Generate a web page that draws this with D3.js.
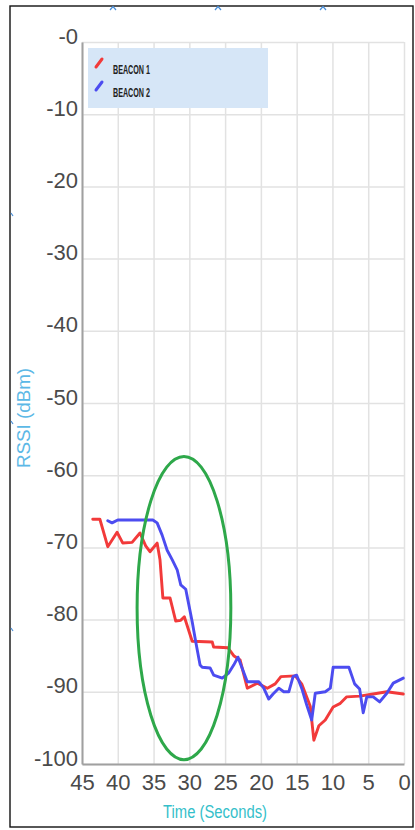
<!DOCTYPE html>
<html>
<head>
<meta charset="utf-8">
<script src="https://cdn.jsdelivr.net/npm/d3@7"></script>
<style>
  html, body { margin: 0; padding: 0; background: #fff; }
  svg { display: block; }
  text { font-family: "Liberation Sans", Arial, sans-serif; }
</style>
</head>
<body>
<svg id="chart" width="415" height="830"></svg>
<script>
// ---------- data ----------
const xTicks = [45, 40, 35, 30, 25, 20, 15, 10, 5, 0];
const xTickLabels = ["45", "40", "35", "30", "25", "20", "15", "10", "5", "0"];
const yTicks = [0, -10, -20, -30, -40, -50, -60, -70, -80, -90, -100];
const yTickLabels = ["-0", "-10", "-20", "-30", "-40", "-50", "-60", "-70", "-80", "-90", "-100"];

const seriesNames = ["BEACON 1", "BEACON 2"];

const beacon1Time = [43.5, 42.5, 41.4, 40.1, 39.3, 38.0, 36.9, 36.1, 35.5, 34.5,
                     34.1, 33.7, 32.7, 31.9, 31.2, 30.7, 29.6, 26.8, 26.6, 24.6,
                     23.8, 22.9, 21.9, 20.5, 19.1, 18.0, 17.2, 15.2, 14.3, 13.1,
                     12.6, 11.9, 11.0, 9.9, 8.9, 8.0, 6.2, 4.3, 2.4, 0.1];
const beacon1Rssi = [-66.1, -66.1, -69.9, -67.9, -69.4, -69.3, -68.0, -69.8, -70.6, -69.4,
                     -71.7, -77.0, -77.0, -80.2, -80.1, -79.6, -83.0, -83.1, -83.8, -83.9,
                     -85.0, -85.6, -89.5, -88.8, -89.5, -88.9, -87.9, -87.8, -88.9, -92.0,
                     -96.7, -94.7, -93.9, -92.1, -91.6, -90.7, -90.6, -90.3, -90.0, -90.3];

const beacon2Time = [41.4, 40.8, 40.0, 35.1, 34.5, 33.8, 33.1, 32.4, 31.7, 31.2,
                     30.5, 30.2, 29.6, 29.1, 28.5, 28.2, 27.1, 26.6, 25.4, 24.5,
                     23.8, 23.2, 21.9, 20.3, 19.6, 18.9, 18.3, 17.5, 16.8, 16.1,
                     15.5, 15.0, 14.3, 13.6, 12.9, 12.4, 11.0, 10.3, 9.9, 7.7,
                     6.9, 6.2, 5.7, 5.2, 4.3, 3.4, 2.4, 1.5, 0.1];
const beacon2Rssi = [-66.3, -66.6, -66.2, -66.2, -66.6, -68.3, -70.4, -71.7, -73.1, -75.2,
                     -75.8, -77.3, -80.3, -83.1, -86.3, -86.6, -86.7, -87.7, -88.1, -87.4,
                     -86.3, -85.2, -88.6, -88.6, -89.5, -91.0, -90.3, -89.5, -90.0, -90.0,
                     -87.9, -87.7, -89.5, -91.8, -93.9, -90.2, -90.0, -89.5, -86.6, -86.6,
                     -88.9, -89.6, -92.9, -90.7, -90.7, -91.4, -90.2, -88.8, -88.1];

// highlighted region (green ellipse): centre time, centre rssi, half-width (s), half-height (dB)
const highlightCenter = [30.75, -78.4];
const highlightRadius = [6.55, 21];

// ---------- layout ----------
const svg = d3.select("#chart");
const plotLeft = 82, plotRight = 404, plotTop = 42, plotBottom = 764;

const x = d3.scaleLinear().domain([45, 0]).range([plotLeft, plotRight]);
const y = d3.scaleLinear().domain([0, -100]).range([plotTop, plotBottom]);

// outer frame
svg.append("rect")
  .attr("x", 10).attr("y", 6).attr("width", 403).attr("height", 821)
  .attr("fill", "#fff").attr("stroke", "#111").attr("stroke-width", 1.4);

// small handle marks on the frame
const handleX = [113, 218, 323];
svg.selectAll("path.hTop").data(handleX).join("path")
  .attr("d", d => `M${d - 3},${10} L${d},${6.5} L${d + 3},${10}`)
  .attr("fill", "none").attr("stroke", "#4a8fd8").attr("stroke-width", 1.2);
const handleY = [215, 423, 630];
svg.selectAll("path.hLeft").data(handleY).join("path")
  .attr("d", d => `M${11},${d - 2} L${13},${d + 1}`)
  .attr("fill", "none").attr("stroke", "#4a8fd8").attr("stroke-width", 1.2);

// grid
const gridG = svg.append("g");
gridG.append("g")
  .attr("transform", `translate(0,${plotBottom})`)
  .call(d3.axisBottom(x).tickValues(xTicks).tickSize(-(plotBottom - plotTop)).tickFormat(""))
  .call(g => g.select(".domain").remove())
  .call(g => g.selectAll("line").attr("stroke", "#e2e2e2").attr("stroke-width", 1.5));
gridG.append("g")
  .attr("transform", `translate(${plotLeft},0)`)
  .call(d3.axisLeft(y).tickValues(yTicks).tickSize(-(plotRight - plotLeft)).tickFormat(""))
  .call(g => g.select(".domain").remove())
  .call(g => g.selectAll("line").attr("stroke", "#e2e2e2").attr("stroke-width", 1.5));

// axes (labels)
const xAxisG = svg.append("g")
  .attr("transform", `translate(0,${plotBottom})`)
  .call(d3.axisBottom(x).tickValues(xTicks).tickSize(0)
        .tickFormat((d, i) => xTickLabels[i]));
xAxisG.attr("font-family", null);
xAxisG.select(".domain").attr("stroke", "#a0a0a0").attr("stroke-width", 2);
xAxisG.selectAll("text")
  .attr("y", 26).attr("dy", null)
  .attr("fill", "#4a4a4a").attr("font-size", 22);

const yAxisG = svg.append("g")
  .attr("transform", `translate(${plotLeft},0)`)
  .call(d3.axisLeft(y).tickValues(yTicks).tickSize(0)
        .tickFormat((d, i) => yTickLabels[i]));
yAxisG.attr("font-family", null);
yAxisG.select(".domain").attr("stroke", "#a0a0a0").attr("stroke-width", 2);
yAxisG.selectAll("text")
  .attr("x", -4).attr("y", 1).attr("dy", null)
  .attr("fill", "#4a4a4a").attr("font-size", 22);

// axis titles
svg.append("text")
  .attr("x", 215).attr("y", 818)
  .attr("text-anchor", "middle")
  .attr("font-size", 18)
  .attr("fill", "#35bfca")
  .attr("textLength", 104).attr("lengthAdjust", "spacingAndGlyphs")
  .text("Time (Seconds)");

svg.append("text")
  .attr("transform", "translate(30,418) rotate(-90)")
  .attr("text-anchor", "middle")
  .attr("font-size", 18)
  .attr("fill", "#5cb8e6")
  .attr("textLength", 100).attr("lengthAdjust", "spacingAndGlyphs")
  .text("RSSI (dBm)");

// lines
const line = d3.line().x(d => x(d[0])).y(d => y(d[1]));
const b1 = beacon1Time.map((t, i) => [t, beacon1Rssi[i]]);
const b2 = beacon2Time.map((t, i) => [t, beacon2Rssi[i]]);
const colors = ["#f23a3a", "#4c4cf0"];

svg.append("path").datum(b1).attr("d", line)
  .attr("fill", "none").attr("stroke", colors[0]).attr("stroke-width", 2.9)
  .attr("stroke-linejoin", "round").attr("stroke-linecap", "round");
svg.append("path").datum(b2).attr("d", line)
  .attr("fill", "none").attr("stroke", colors[1]).attr("stroke-width", 2.9)
  .attr("stroke-linejoin", "round").attr("stroke-linecap", "round");

// highlight ellipse
svg.append("ellipse")
  .attr("cx", x(highlightCenter[0])).attr("cy", y(highlightCenter[1]))
  .attr("rx", Math.abs(x(highlightCenter[0] - highlightRadius[0]) - x(highlightCenter[0])))
  .attr("ry", Math.abs(y(highlightCenter[1] - highlightRadius[1]) - y(highlightCenter[1])))
  .attr("fill", "none").attr("stroke", "#2ea84a").attr("stroke-width", 3);

// legend
const legend = svg.append("g");
legend.append("rect")
  .attr("x", 88).attr("y", 48).attr("width", 180).attr("height", 60)
  .attr("fill", "#d6e6f7");
const legendY = [69, 92];
seriesNames.forEach((name, i) => {
  const cy = legendY[i];
  legend.append("line")
    .attr("x1", 96).attr("y1", cy - 2).attr("x2", 102).attr("y2", cy - 10)
    .attr("stroke", colors[i]).attr("stroke-width", 3).attr("stroke-linecap", "round");
  legend.append("text")
    .attr("x", 113).attr("y", cy + 5)
    .attr("font-size", 12).attr("font-weight", "bold")
    .attr("fill", "#222")
    .attr("textLength", 37).attr("lengthAdjust", "spacingAndGlyphs")
    .text(name);
});
</script>
</body>
</html>
